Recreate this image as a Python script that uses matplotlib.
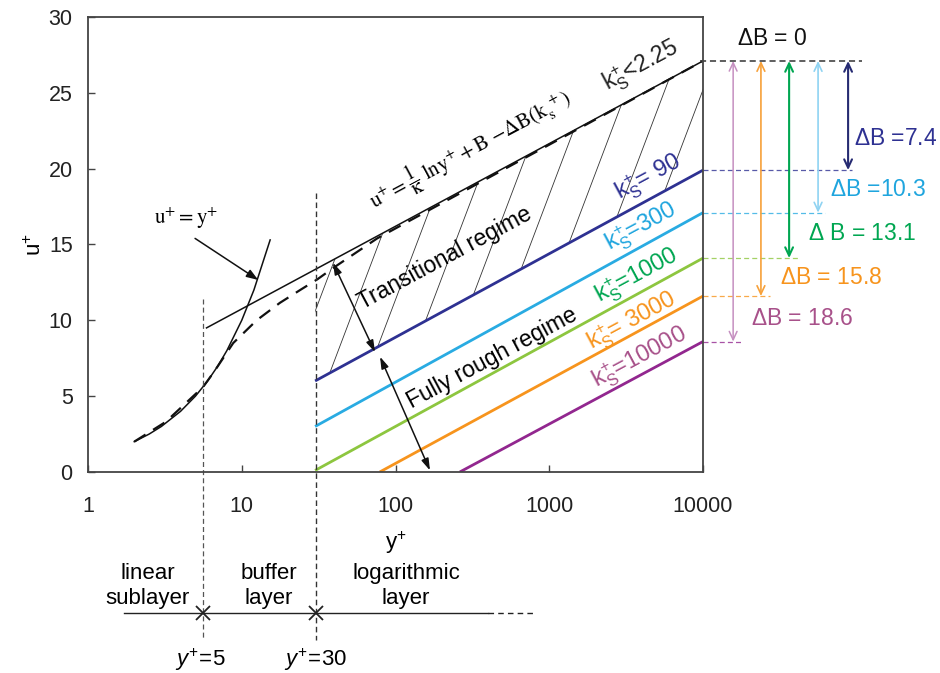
import numpy as np
import matplotlib.pyplot as plt

plt.rcParams['font.family'] = ['Liberation Sans', 'DejaVu Sans']
plt.rcParams['mathtext.fontset'] = 'custom'
plt.rcParams['mathtext.rm'] = 'Liberation Sans'
plt.rcParams['mathtext.it'] = 'Liberation Sans:italic'
plt.rcParams['mathtext.sf'] = 'Liberation Sans'

# ---- data ----
# log law (smooth wall, ks+ < 2.25)
loglaw_yplus = [5.9, 10000]
loglaw_u = [9.5, 27.1]

# viscous sublayer u+ = y+
linear_yplus = [2, 2.5, 3, 4, 5, 6, 7, 8, 10, 12, 15.3]
linear_u = [2, 2.5, 3, 4, 5, 6, 7, 8, 10, 12, 15.3]

# composite smooth-wall profile (dashed)
profile_yplus = [2.0, 3.2, 5.6, 6.6, 8.8, 12.5, 17.7, 24, 31, 40, 76, 10000]
profile_u = [2.0, 3.3, 5.6, 6.6, 8.5, 10.0, 11.15, 12.0, 12.7, 13.5, 15.4, 27.1]

# rough-wall log laws
ks_labels = ['90', '300', '1000', '3000', '10000']
ks_start_yplus = [30, 30, 30, 79, 262]
ks_start_u = [6.0, 3.0, 0.1, 0.0, 0.0]
ks_end_u = [19.9, 17.1, 14.1, 11.6, 8.6]
delta_B = [7.4, 10.3, 13.1, 15.8, 18.6]
u_top = 27.1

line_colors = ['#2e3192', '#29abe2', '#8dc63f', '#f7941d', '#92278f']
text_colors = ['#2e3192', '#1fa5de', '#00a651', '#f7941d', '#a8518a']
arrow_colors = ['#262b72', '#8fd3f2', '#00a651', '#f7a13a', '#c58fc0']
arrow_lw = [1.5, 1.2, 1.5, 1.2, 1.1]

# positions of the delta B arrows / dashed guides right of the frame (y+ units)
arrow_x = [87800, 56000, 36300, 23800, 15700]
guide_end_x = [93100, 62200, 41500, 27300, 18200]

fig = plt.figure(figsize=(9.4, 6.73), dpi=100)
ax = fig.add_axes([0.0936, 0.2987, 0.6543, 0.6761])
ax.set_xscale('log')
ax.set_xlim(1, 10000)
ax.set_ylim(0, 30)

for s in ax.spines.values():
    s.set_linewidth(1.3)
    s.set_color('#444444')

ax.set_xticks([1, 10, 100, 1000, 10000])
ax.set_xticklabels(['1', '10', '100', '1000', '10000'])
ax.minorticks_off()
ax.set_yticks([0, 5, 10, 15, 20, 25, 30])
ax.tick_params(axis='both', direction='in', length=5, width=1, color='#444444',
               labelsize=15.5, colors='#222222')
ax.tick_params(axis='x', pad=17)
ax.tick_params(axis='y', pad=11)
ax.set_ylabel(r'u$^{+}$', fontsize=16, labelpad=2)
ax.set_xlabel(r'y$^{+}$', fontsize=16, labelpad=9)

# hatched transitional region between smooth log law and ks+=90
hx = np.array([30.0, 10000.0])
h_hi = np.interp(np.log(hx), np.log(loglaw_yplus), loglaw_u)
h_lo = np.interp(np.log(hx), np.log([ks_start_yplus[0], 10000]), [ks_start_u[0], ks_end_u[0]])
region = ax.fill_between(hx, h_lo, h_hi, facecolor='none', edgecolor='none')
clip = region.get_paths()[0]
for x0 in np.arange(0.394 - 0.0618 * 8, 1.0, 0.0618):
    hl, = ax.plot([x0, x0 + 0.28], [0, 1.0], transform=ax.transAxes,
                  color='#333333', lw=0.6)
    hl.set_clip_path(clip, ax.transData)

# smooth wall lines
ax.plot(loglaw_yplus, loglaw_u, color='#111111', lw=1.1)
ax.plot(linear_yplus, linear_u, color='#111111', lw=1.1)
ax.plot(profile_yplus, profile_u, color='#111111', lw=1.6, dashes=(6, 4))

# rough wall lines
for i in range(len(ks_labels)):
    ax.plot([ks_start_yplus[i], 10000], [ks_start_u[i], ks_end_u[i]],
            color=line_colors[i], lw=2.0, solid_capstyle='butt')

# vertical layer boundaries (extend below the frame)
ax.plot([5.6, 5.6], [11.4, -11.1], color='#555555', lw=0.9, dashes=(4, 2.5), clip_on=False)
ax.plot([30.4, 30.4], [18.4, -11.1], color='#333333', lw=1.0, dashes=(4, 2.5), clip_on=False)

# annotations
ax.annotate('', xy=(12.8, 12.66), xytext=(4.97, 15.4),
            arrowprops=dict(arrowstyle='-|>,head_length=0.7,head_width=0.25',
                            color='#111111', lw=1.1, shrinkA=0, shrinkB=0))
ax.text(4.34, 16.7, r'$\mathrm{u^{+}=y^{+}}$', math_fontfamily='stix',
        fontsize=15, ha='center', va='center')

ax.annotate('', xy=(39.2, 13.8), xytext=(73.6, 7.9),
            arrowprops=dict(arrowstyle='<|-|>,head_length=0.7,head_width=0.22',
                            color='#111111', lw=1.1, shrinkA=0, shrinkB=0))
ax.annotate('', xy=(79.3, 7.6), xytext=(167.6, 0.1),
            arrowprops=dict(arrowstyle='<|-|>,head_length=0.7,head_width=0.22',
                            color='#111111', lw=1.1, shrinkA=0, shrinkB=0))

rot = 28.2
ax.text(305, 21.3, r'$\mathrm{u^{+}=\dfrac{1}{\kappa}\ lny^{+}+B\ {-}\Delta B(k_{s}^{\ +})}$',
        math_fontfamily='stix', fontsize=15, rotation=rot, rotation_mode='anchor',
        ha='center', va='center')
ax.text(3950, 26.7, r'k$_\mathrm{S}^{+}$<2.25', fontsize=16.5, rotation=rot,
        rotation_mode='anchor', ha='center', va='center', color='#222222')
ax.text(210, 14.1, 'Transitional regime', fontsize=16.5, rotation=rot,
        rotation_mode='anchor', ha='center', va='center')
ax.text(424, 7.5, 'Fully rough regime', fontsize=16.5, rotation=rot,
        rotation_mode='anchor', ha='center', va='center')

ks_text = [r'k$_\mathrm{S}^{+}$= 90', r'k$_\mathrm{S}^{+}$=300', r'k$_\mathrm{S}^{+}$=1000',
           r'k$_\mathrm{S}^{+}$= 3000', r'k$_\mathrm{S}^{+}$=10000']
ks_text_x = [4390, 3950, 3720, 3450, 3890]
ks_text_u = [19.4, 16.1, 12.9, 9.9, 7.5]
for i in range(len(ks_labels)):
    ax.text(ks_text_x[i], ks_text_u[i], ks_text[i], fontsize=17, rotation=rot,
            rotation_mode='anchor', ha='center', va='center', color=text_colors[i])

# delta B guides and arrows outside the frame
ax.plot([9550, 108000], [u_top, u_top], color='#333333', lw=1.1, dashes=(4, 2.5), clip_on=False)
ax.text(28100, 28.6, r'$\Delta$B = 0', fontsize=16.5, ha='center', va='center', color='#111111')
for i in range(len(delta_B)):
    ax.plot([10000, guide_end_x[i]], [ks_end_u[i], ks_end_u[i]], color=line_colors[i],
            lw=0.9, dashes=(4, 2.5), clip_on=False, alpha=0.8)
    ax.annotate('', xy=(arrow_x[i], ks_end_u[i]), xytext=(arrow_x[i], u_top),
                annotation_clip=False,
                arrowprops=dict(arrowstyle='<->,head_length=0.6,head_width=0.28',
                                color=arrow_colors[i], lw=arrow_lw[i],
                                shrinkA=0, shrinkB=0))

dB_text = [r'$\Delta$B =7.4', r'$\Delta$B =10.3', r'$\Delta$ B = 13.1',
           r'$\Delta$B = 15.8', r'$\Delta$B = 18.6']
dB_text_x = [180000, 137000, 108000, 68000, 44000]
dB_text_u = [22.0, 18.6, 15.75, 12.85, 10.15]
for i in range(len(delta_B)):
    ax.text(dB_text_x[i], dB_text_u[i], dB_text[i], fontsize=16.5, ha='center',
            va='center', color=text_colors[i], clip_on=False)

# layer diagram below the axis
ax.plot([1.71, 402], [-9.3, -9.3], color='#222222', lw=1.0, clip_on=False)
ax.plot([402, 787], [-9.3, -9.3], color='#222222', lw=1.0, dashes=(4, 3), clip_on=False)
ax.plot([5.6, 30.4], [-9.3, -9.3], ls='none', marker='x', ms=10, mew=1.3,
        color='#222222', clip_on=False)
ax.text(2.45, -7.5, 'linear\nsublayer', fontsize=16, ha='center', va='center',
        linespacing=1.25)
ax.text(15.0, -7.5, 'buffer\nlayer', fontsize=16, ha='center', va='center',
        linespacing=1.25)
ax.text(117, -7.5, 'logarithmic\nlayer', fontsize=16, ha='center', va='center',
        linespacing=1.25)
ax.text(5.4, -12.4, r'$\mathit{y^{+}\!=\!5}$', fontsize=16, ha='center', va='center')
ax.text(30.4, -12.4, r'$\mathit{y^{+}\!=\!30}$', fontsize=16, ha='center', va='center')

fig.savefig('out.png', dpi=100)
